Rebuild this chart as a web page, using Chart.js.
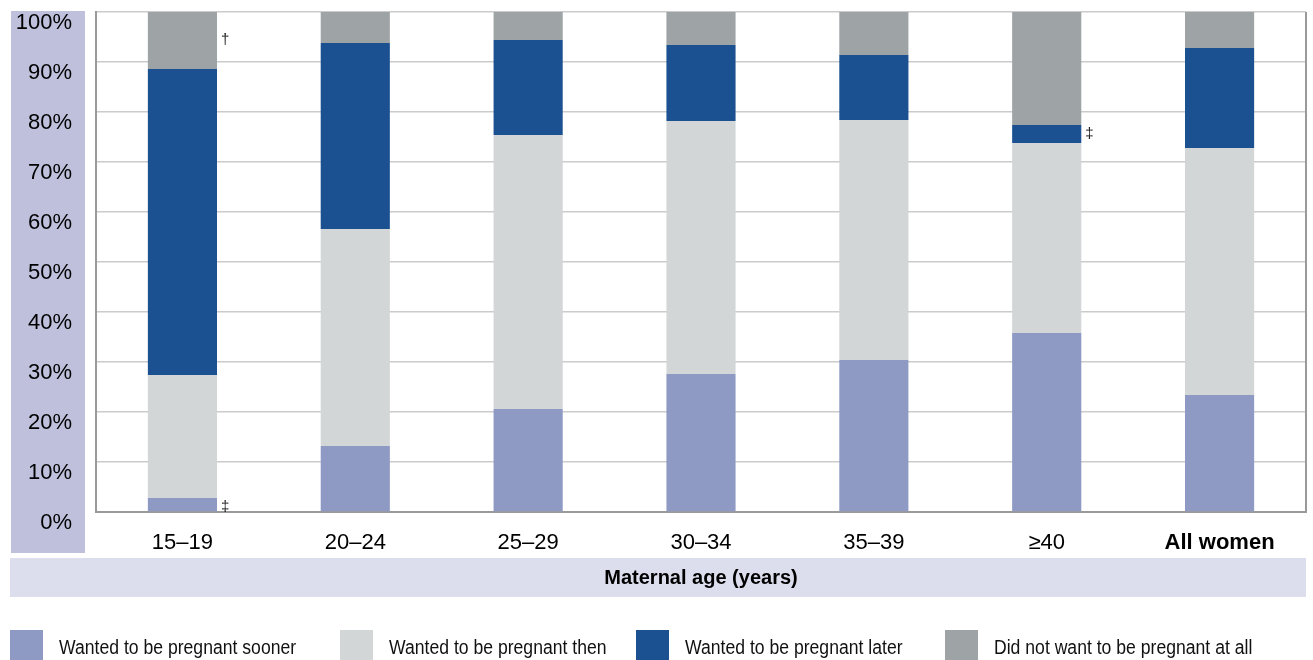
<!DOCTYPE html>
<html>
<head>
<meta charset="utf-8">
<script src="https://cdn.jsdelivr.net/npm/chart.js@4"></script>
<style>
  html, body { margin: 0; padding: 0; background: #fff; }
  #wrap { width: 1313px; height: 660px; }
</style>
</head>
<body>
<div id="wrap"><canvas id="myChart" width="1313" height="660"></canvas></div>
<script>
const ageGroups = ['15–19', '20–24', '25–29', '30–34', '35–39', '≥40', 'All women'];
const seriesNames = [
  'Wanted to be pregnant sooner',
  'Wanted to be pregnant then',
  'Wanted to be pregnant later',
  'Did not want to be pregnant at all'
];
const sooner = [2.8, 13.2, 20.6, 27.6, 30.4, 35.8, 23.4];
const then = [24.6, 43.4, 54.8, 50.6, 48.0, 38.0, 49.4];
const later = [61.2, 37.2, 19.0, 15.2, 13.0, 3.6, 20.0];
const notAtAll = [11.4, 6.2, 5.6, 6.6, 8.6, 22.6, 7.2];
const yTicks = [0, 10, 20, 30, 40, 50, 60, 70, 80, 90, 100];
// footnote marks: [dataset index, category index, symbol]
const notes = [[3, 0, '†'], [0, 0, '‡'], [2, 5, '‡']];

const colors = ['#8e9ac4', '#d2d6d7', '#1b5191', '#9ea3a6'];
const FONT = "'Liberation Sans', Arial, sans-serif";

const ctx = document.getElementById('myChart');

// squeeze text a bit, the original uses a condensed face
function narrowText(c, txt, x, y, sx) {
  c.save();
  c.translate(x, y);
  c.scale(sx, 1);
  c.fillText(txt, 0, 0);
  c.restore();
}

const decor = {
  id: 'decor',
  beforeDraw(chart) {
    const c = chart.ctx;
    const a = chart.chartArea;
    c.save();
    c.fillStyle = '#bfc0dc';
    c.fillRect(11, 11, 74, 542);
    c.fillStyle = '#dcdeed';
    c.fillRect(10, 558, 1296, 39);
    c.fillStyle = '#000';
    c.font = 'bold 20px ' + FONT;
    c.textAlign = 'center';
    c.textBaseline = 'middle';
    c.fillText('Maternal age (years)', (a.left + a.right) / 2, 578);
    c.restore();
  },
  afterDatasetsDraw(chart) {
    const c = chart.ctx;
    const a = chart.chartArea;
    c.save();
    c.strokeStyle = '#9a9a9a';
    c.lineWidth = 2;
    c.beginPath();
    c.moveTo(a.right, a.top);
    c.lineTo(a.right, a.bottom);
    c.stroke();
    c.fillStyle = '#222';
    c.font = '15px ' + FONT;
    c.textAlign = 'left';
    c.textBaseline = 'middle';
    notes.forEach(([d, i, s]) => {
      const bar = chart.getDatasetMeta(d).data[i];
      const half = bar.width / 2;
      const yMid = d === 3 ? bar.y + 28 : (bar.y + bar.base) / 2 + (d === 0 ? 2 : 0);
      c.fillText(s, bar.x + half + 4, yMid);
    });
    // legend
    const xs = [10, 340, 636, 945];
    c.font = '20px ' + FONT;
    chart.data.datasets.forEach((ds, k) => {
      c.fillStyle = ds.backgroundColor;
      c.fillRect(xs[k], 630, 33, 30);
      c.fillStyle = '#111';
      narrowText(c, ds.label, xs[k] + 49, 648, 0.88);
    });
    c.restore();
  }
};

new Chart(ctx, {
  type: 'bar',
  data: {
    labels: ageGroups,
    datasets: [sooner, then, later, notAtAll].map((vals, k) => ({
      label: seriesNames[k],
      data: vals,
      backgroundColor: colors[k],
      borderWidth: 0,
      barPercentage: 0.4,
      categoryPercentage: 1
    }))
  },
  options: {
    responsive: false,
    animation: false,
    layout: { padding: { left: 10, top: 12, right: 7, bottom: 0 } },
    plugins: {
      legend: { display: false },
      tooltip: { enabled: false }
    },
    scales: {
      x: {
        stacked: true,
        grid: { display: false, drawTicks: false },
        border: { color: '#9a9a9a', width: 2 },
        ticks: {
          color: '#000',
          padding: 18,
          font: c => ({ family: FONT,
                        size: 22,
                        weight: c.index === 6 ? 'bold' : 'normal' })
        },
        afterFit: s => { s.height = 148; s.paddingLeft = 0; s.paddingRight = 0; }
      },
      y: {
        stacked: true,
        min: 0,
        max: 100,
        afterBuildTicks: s => { s.ticks = yTicks.map(v => ({ value: v })); },
        grid: { color: '#cbcbcb', lineWidth: 1.5, drawTicks: false },
        border: { color: '#9a9a9a', width: 2 },
        ticks: {
          color: '#000',
          padding: 24,
          labelOffset: 11,
          font: { family: FONT, size: 22 },
          callback: v => v + '%'
        },
        afterFit: s => { s.width = 86; s.paddingTop = 0; s.paddingBottom = 0; }
      }
    }
  },
  plugins: [decor]
});
</script>
</body>
</html>
